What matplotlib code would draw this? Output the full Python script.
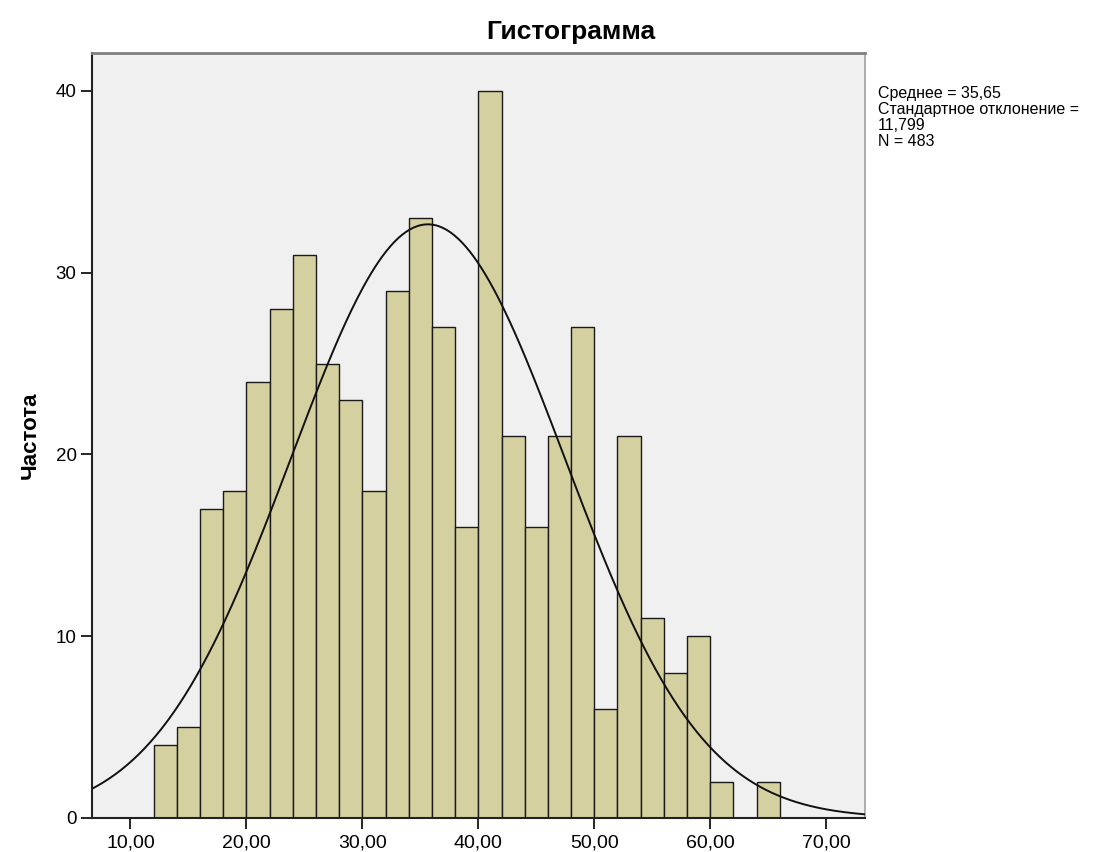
import matplotlib.pyplot as plt
import numpy as np

plt.rcParams['font.family'] = ['Liberation Sans', 'DejaVu Sans']

# histogram bins (width 2, from 12 to 66) and counts
bin_edges = np.arange(12, 68, 2)
counts = [4, 5, 17, 18, 24, 28, 31, 25, 23, 18, 29, 33, 27, 16,
          40, 21, 16, 21, 27, 6, 21, 11, 8, 10, 2, 0, 2]

mean = 35.65
std = 11.799
n = 483
bin_width = 2

xticks = [10, 20, 30, 40, 50, 60, 70]
xlabels = ['10,00', '20,00', '30,00', '40,00', '50,00', '60,00', '70,00']
yticks = [0, 10, 20, 30, 40]

fig = plt.figure(figsize=(10.95, 8.52), dpi=100)
ax = fig.add_axes([0.084, 0.040, 0.706, 0.898])
ax.set_facecolor('#f0f0f0')

ax.bar(bin_edges[:-1], counts, width=bin_width, align='edge',
       color='#d4d0a0', edgecolor='#1a1a1a', linewidth=1.0, zorder=2)

# fitted normal curve scaled to counts
xlim = (6.68, 73.35)
xs = np.linspace(xlim[0], xlim[1], 400)
ys = n * bin_width / (std * np.sqrt(2 * np.pi)) * np.exp(-0.5 * ((xs - mean) / std) ** 2)
ax.plot(xs, ys, color='#111111', linewidth=1.4, zorder=3)

ax.set_xlim(*xlim)
ax.set_ylim(0, 42.1)
ax.set_xticks(xticks)
ax.set_xticklabels(xlabels)
ax.set_yticks(yticks)
ax.tick_params(direction='out', length=8, width=1.2, labelsize=14, pad=4)
ax.tick_params(axis='y', labelsize=13.5, pad=3)

for side in ('left', 'bottom'):
    ax.spines[side].set_color('#222222')
    ax.spines[side].set_linewidth(1.5)
ax.spines['top'].set_color('#808080')
ax.spines['top'].set_linewidth(2)
ax.spines['right'].set_color('#a0a0a0')
ax.spines['right'].set_linewidth(1.2)

fig.text(571 / 1095, 1 - 39 / 852, 'Гистограмма', fontsize=19,
         fontweight='bold', ha='center', va='baseline')
ax.set_ylabel('Частота', fontsize=16, fontweight='bold', labelpad=11)

fig.text(0.802, 1 - 86 / 852,
         'Среднее = 35,65\nСтандартное отклонение =\n11,799\nN = 483',
         fontsize=11.5, va='top', ha='left', linespacing=1.08)

fig.savefig('out.png', dpi=100, facecolor='white')
